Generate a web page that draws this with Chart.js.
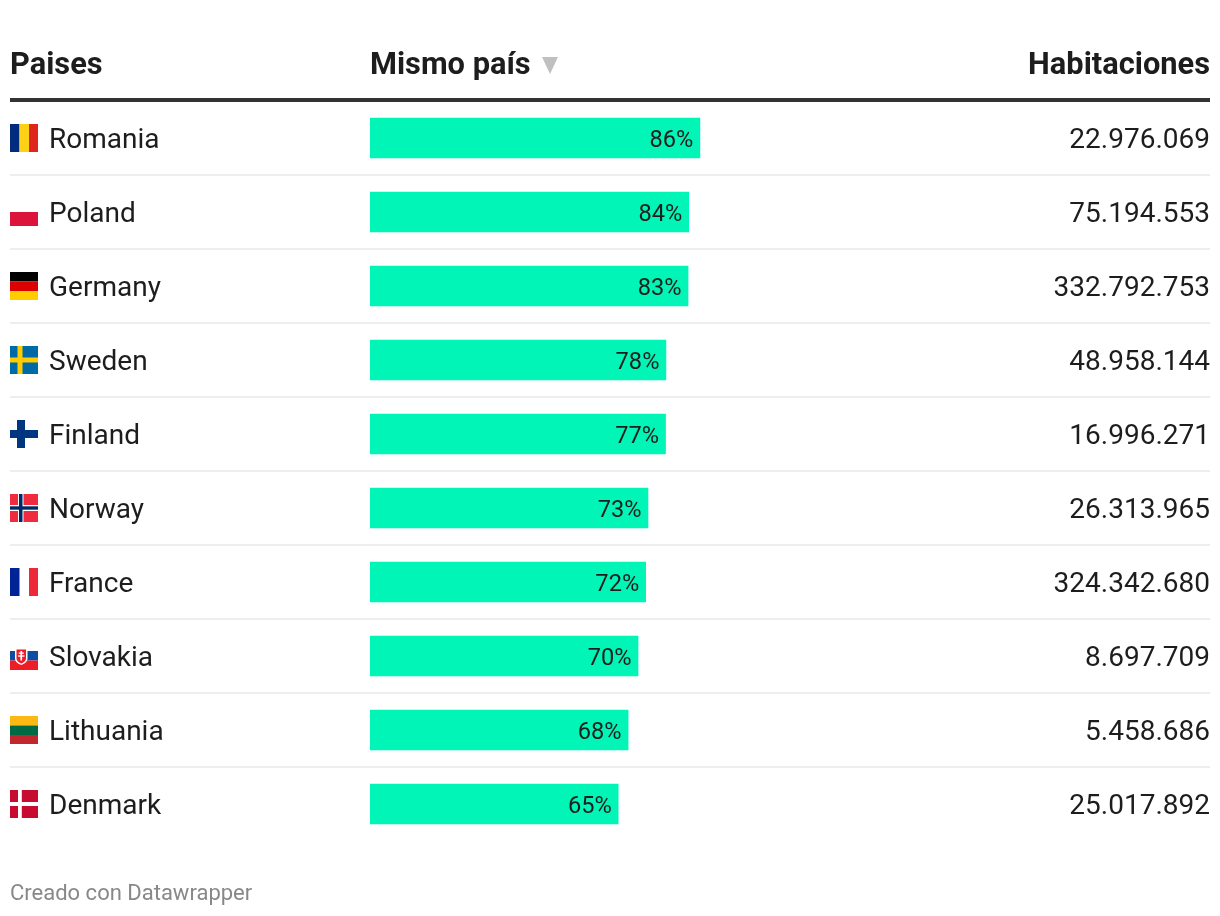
<!DOCTYPE html>
<html>
<head>
<meta charset="utf-8">
<title>Mismo país</title>
<style>
    html, body { margin: 0; padding: 0; background: #ffffff; }
    #table_chart_wrap { position: relative; width: 1220px; height: 916px; }
</style>
<script src="https://cdn.jsdelivr.net/npm/chart.js@4"></script>
</head>
<body>
<div id="table_chart_wrap"><canvas id="table_chart"></canvas></div>
<script>
const country_names = ['Romania', 'Poland', 'Germany', 'Sweden', 'Finland', 'Norway', 'France', 'Slovakia', 'Lithuania', 'Denmark'];
const same_country_pct = [86.4, 83.5, 83.3, 77.5, 77.4, 72.8, 72.2, 70.2, 67.6, 65.0];
const room_counts = ['22.976.069', '75.194.553', '332.792.753', '48.958.144', '16.996.271', '26.313.965', '324.342.680', '8.697.709', '5.458.686', '25.017.892'];
const header_labels = ['Paises', 'Mismo país', 'Habitaciones'];
const footer_label = 'Creado con Datawrapper';

const table_palette = {
    bar: '#00f5b6',
    text: '#1d1d1d',
    rule_strong: '#333333',
    rule_light: '#eeeeee',
    arrow: '#c0c0c0',
    footer: '#888888',
};

const table_font = 'Roboto, sans-serif';

function fill_rects(ctx, x, y, rects) {
    rects.forEach(function (rect) {
        ctx.fillStyle = rect[4];
        ctx.fillRect(x + rect[0], y + rect[1], rect[2], rect[3]);
    });
}

function fill_shield(ctx, x, y, width, height, color) {
    ctx.fillStyle = color;
    ctx.beginPath();
    ctx.moveTo(x, y);
    ctx.lineTo(x + width, y);
    ctx.lineTo(x + width, y + height * 0.62);
    ctx.quadraticCurveTo(x + width, y + height * 0.85, x + width / 2, y + height);
    ctx.quadraticCurveTo(x, y + height * 0.85, x, y + height * 0.62);
    ctx.closePath();
    ctx.fill();
}

// flags are 28x28 boxes, drawn relative to the row centre
const flag_painters = {
    Romania: function (ctx, x, y) {
        fill_rects(ctx, x, y, [[0, 0, 9.5, 28, '#002b7f'], [9.5, 0, 9.5, 28, '#fcd116'], [19, 0, 9, 28, '#e0261a']]);
    },
    Poland: function (ctx, x, y) {
        fill_rects(ctx, x, y, [[0, 14, 28, 14, '#dc143c']]);
    },
    Germany: function (ctx, x, y) {
        fill_rects(ctx, x, y, [[0, 0, 28, 9.5, '#000000'], [0, 9.5, 28, 9.5, '#dd0000'], [0, 19, 28, 9, '#ffce00']]);
    },
    Sweden: function (ctx, x, y) {
        fill_rects(ctx, x, y, [[0, 0, 28, 28, '#006aa7'], [7.5, 0, 5, 28, '#fecc00'], [0, 11.5, 28, 5, '#fecc00']]);
    },
    Finland: function (ctx, x, y) {
        fill_rects(ctx, x, y, [[7, 0, 8, 28, '#003580'], [0, 10, 28, 8, '#003580']]);
    },
    Norway: function (ctx, x, y) {
        fill_rects(ctx, x, y, [
            [0, 0, 28, 28, '#ef2b3d'],
            [8, 0, 5.5, 28, '#ffffff'], [0, 11, 28, 6, '#ffffff'],
            [9, 0, 3.5, 28, '#002868'], [0, 12.3, 28, 3.4, '#002868'],
        ]);
    },
    France: function (ctx, x, y) {
        fill_rects(ctx, x, y, [[0, 0, 9.5, 28, '#002395'], [19, 0, 9, 28, '#ed2939']]);
    },
    Slovakia: function (ctx, x, y) {
        fill_rects(ctx, x, y, [[0, 9, 28, 9.5, '#0b4ea2'], [0, 18.5, 28, 9.5, '#ee1c25']]);
        fill_shield(ctx, x + 5, y + 6.5, 12.5, 16.5, '#ffffff');
        fill_shield(ctx, x + 6.5, y + 7.5, 9.5, 14, '#ee1c25');
        fill_rects(ctx, x, y, [[10.4, 9, 1.7, 9.5, '#ffffff'], [8.7, 10.5, 5.1, 1.3, '#ffffff'], [8, 13.3, 6.5, 1.4, '#ffffff']]);
    },
    Lithuania: function (ctx, x, y) {
        fill_rects(ctx, x, y, [[0, 0, 28, 9.5, '#fdb913'], [0, 9.5, 28, 9.5, '#006a44'], [0, 19, 28, 9, '#c1272d']]);
    },
    Denmark: function (ctx, x, y) {
        fill_rects(ctx, x, y, [[0, 0, 28, 28, '#c60c30'], [8, 0, 3.8, 28, '#ffffff'], [0, 12, 28, 4, '#ffffff']]);
    },
};

const table_plugin = {
    id: 'table_plugin',
    afterDatasetsDraw: function (chart) {
        const ctx = chart.ctx;
        const y_scale = chart.scales.y;
        const bars = chart.getDatasetMeta(0).data;

        ctx.save();
        ctx.textBaseline = 'alphabetic';

        // header
        ctx.fillStyle = table_palette.text;
        ctx.font = 'bold 30.8px ' + table_font;
        ctx.textAlign = 'left';
        ctx.fillText(header_labels[0], 10, 74);
        ctx.fillText(header_labels[1], 370, 74);
        ctx.textAlign = 'right';
        ctx.fillText(header_labels[2], 1210, 74);

        ctx.fillStyle = table_palette.arrow;
        ctx.beginPath();
        ctx.moveTo(542, 57);
        ctx.lineTo(558, 57);
        ctx.lineTo(550, 74);
        ctx.closePath();
        ctx.fill();

        ctx.fillStyle = table_palette.rule_strong;
        ctx.fillRect(10, 98, 1200, 4);

        // rows
        country_names.forEach(function (name, idx) {
            const row_y = y_scale.getPixelForValue(idx);

            if (idx < country_names.length - 1) {
                ctx.fillStyle = table_palette.rule_light;
                ctx.fillRect(10, row_y + 36, 1200, 2);
            }

            flag_painters[name](ctx, 10, row_y - 14);

            ctx.fillStyle = table_palette.text;
            ctx.font = '28px ' + table_font;
            ctx.textAlign = 'left';
            ctx.fillText(name, 49, row_y + 10);
            ctx.textAlign = 'right';
            ctx.fillText(room_counts[idx], 1210, row_y + 10);

            ctx.font = '23.6px ' + table_font;
            ctx.fillText(Math.round(same_country_pct[idx]) + '%', bars[idx].x - 6.5, row_y + 8.5);
        });

        // footer
        ctx.fillStyle = table_palette.footer;
        ctx.font = '22px ' + table_font;
        ctx.textAlign = 'left';
        ctx.fillText(footer_label, 10, 900);
        ctx.restore();
    },
};

function render_table_chart() {
    new Chart(document.getElementById('table_chart').getContext('2d'), {
        type: 'bar',
        data: {
            labels: country_names,
            datasets: [
                {
                    label: header_labels[1],
                    data: same_country_pct,
                    backgroundColor: table_palette.bar,
                    barThickness: 40,
                    borderWidth: 0,
                },
            ],
        },
        options: {
            indexAxis: 'y',
            responsive: true,
            maintainAspectRatio: false,
            animation: false,
            layout: { padding: { left: 370, right: 10, top: 101, bottom: 75 } },
            plugins: {
                legend: { display: false },
                tooltip: { enabled: false },
            },
            scales: {
                x: { display: false, min: 0, max: 220 },
                y: { display: false },
            },
        },
        plugins: [table_plugin],
    });
}

document.fonts.load('28px Roboto').then(render_table_chart, render_table_chart);
</script>
</body>
</html>
